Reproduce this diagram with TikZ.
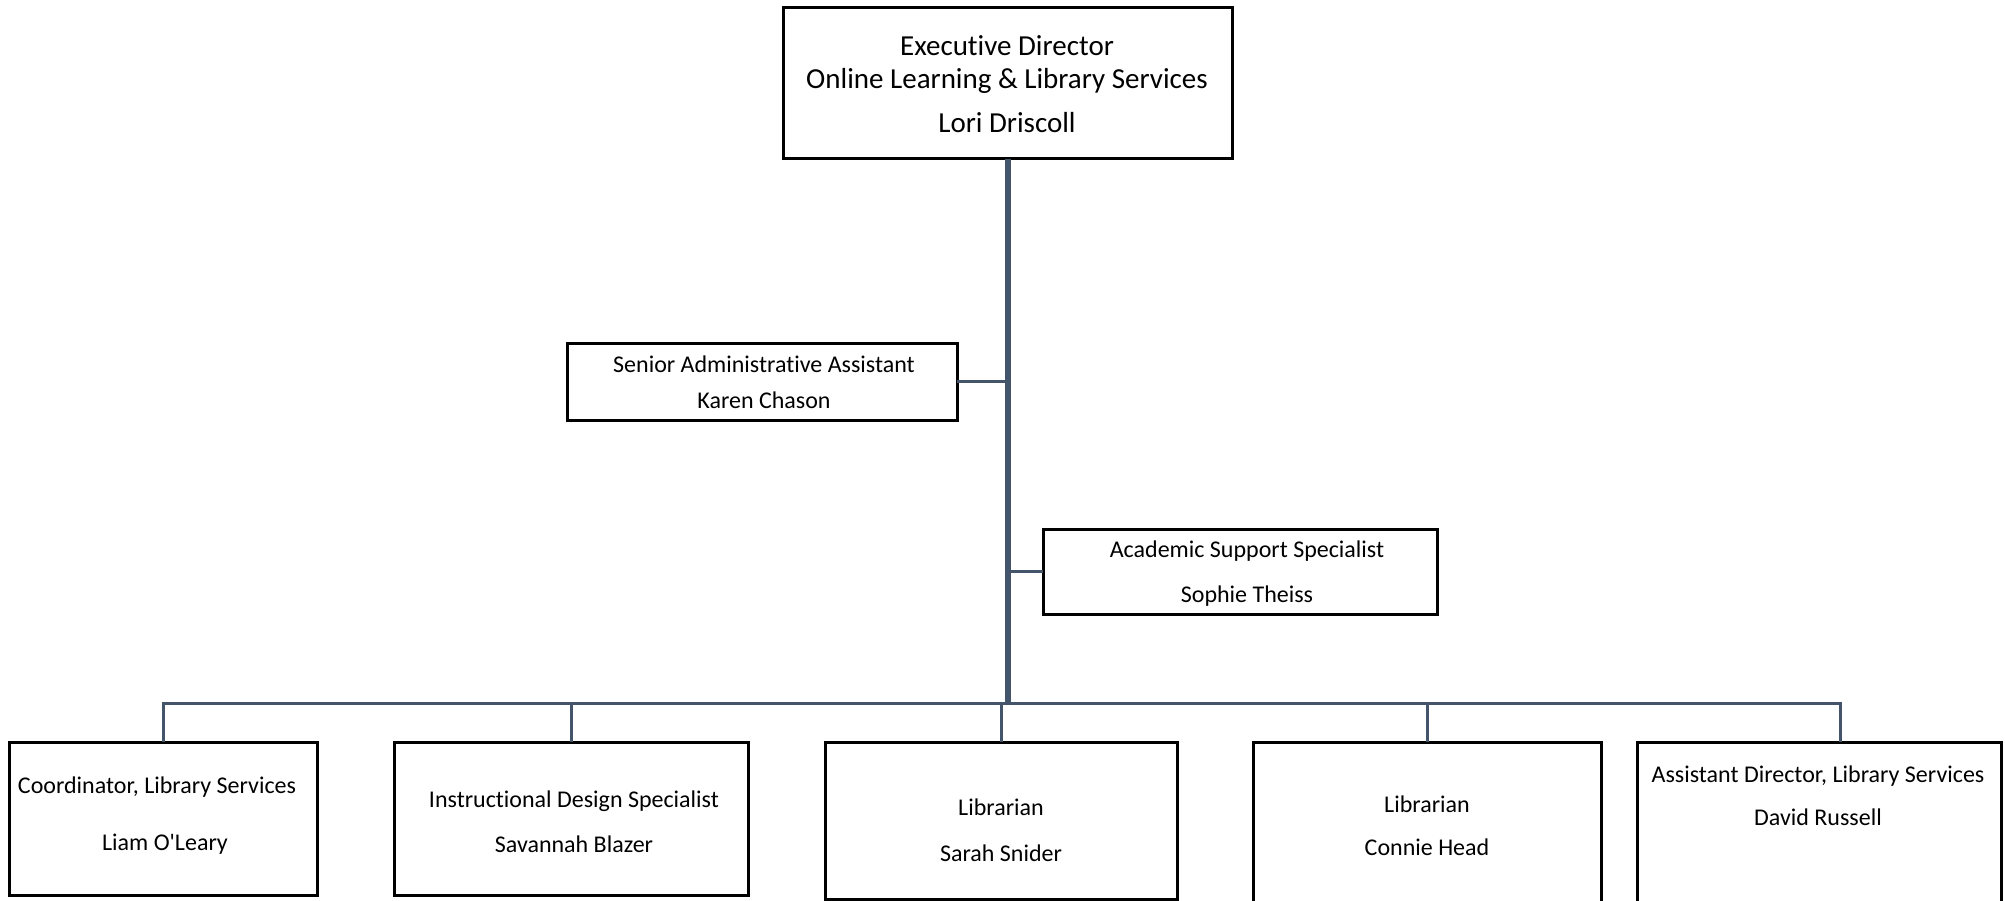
\documentclass[tikz,border=0pt]{standalone}
\usepackage{fontspec}
\setmainfont{Carlito}[Ligatures={TeXOff},RawFeature={-liga;-clig;-calt}]
\begin{document}
\begin{tikzpicture}[x=1pt,y=-1pt,
  box/.style={draw=black,line width=3pt,rectangle,inner sep=0pt,outer sep=0pt,fill=white},
  txt/.style={inner sep=0pt,anchor=base,font=\fontsize{24}{28}\selectfont},
  bigtxt/.style={inner sep=0pt,anchor=base,font=\fontsize{29}{34}\selectfont},
  link/.style={draw=linkc,line width=3pt},
  trunk/.style={draw=linkc,line width=6pt}]
\definecolor{linkc}{HTML}{44546A}
\clip (0,0) rectangle (2005,901);
\fill[white] (0,0) rectangle (2005,901);
% boxes
\node[box,minimum width=449pt,minimum height=151pt] (exec) at (1007.5,83.5) {};
\node[box,minimum width=390pt,minimum height=77pt] (sen) at (762,381.5) {};
\node[box,minimum width=394pt,minimum height=85pt] (acad) at (1240,571.5) {};
\node[box,minimum width=308pt,minimum height=153pt] (b1) at (163,818.5) {};
\node[box,minimum width=354pt,minimum height=153pt] (b2) at (571,818.5) {};
\node[box,minimum width=352pt,minimum height=157pt] (b3) at (1001,820.5) {};
\node[box,minimum width=348pt,minimum height=168pt] (b4) at (1427,826) {};
\node[box,minimum width=364pt,minimum height=168pt] (b5) at (1819,826) {};
% connectors
\coordinate (top) at (1008,159);
\coordinate (bus) at (1008,703);
\coordinate (d5) at (1840,742);
\path[link] (sen.east) -- (sen.east -| bus);
\path[link] (acad.west) -- (acad.west -| bus);
\path[link] (b1.north) |- (bus) -| (d5);
\path[link] (b2.north) -- (b2.north |- bus);
\path[link] (b3.north) -- (b3.north |- bus);
\path[link] (b4.north) -- (b4.north |- bus);
\path[trunk] (exec.south -| top) -- (bus);
% texts
\node[bigtxt] (e1) at (1007,56) {Executive Director};
\node[bigtxt] (e2) at (1007,89) {Online Learning \& Library Services};
\node[bigtxt] (e3) at (1007,133) {Lori Driscoll};
\node[txt] (s1) at (764,372) {Senior Administrative Assistant};
\node[txt] (s2) at (764,408) {Karen Chason};
\node[txt] (a1) at (1247,557) {Academic Support Specialist};
\node[txt] (a2) at (1247,602) {Sophie Theiss};
\node[txt] (t1) at (157,793) {Coordinator, Library Services};
\node[txt] (n1) at (165,850) {Liam O'Leary};
\node[txt] (t2) at (574,807) {Instructional Design Specialist};
\node[txt] (n2) at (574,852) {Savannah Blazer};
\node[txt] (t3) at (1001,815) {Librarian};
\node[txt] (n3) at (1001,861) {Sarah Snider};
\node[txt] (t4) at (1427,812) {Librarian};
\node[txt] (n4) at (1427,855) {Connie Head};
\node[txt] (t5) at (1818,782) {Assistant Director, Library Services};
\node[txt] (n5) at (1818,825) {David Russell};
\end{tikzpicture}
\end{document}
